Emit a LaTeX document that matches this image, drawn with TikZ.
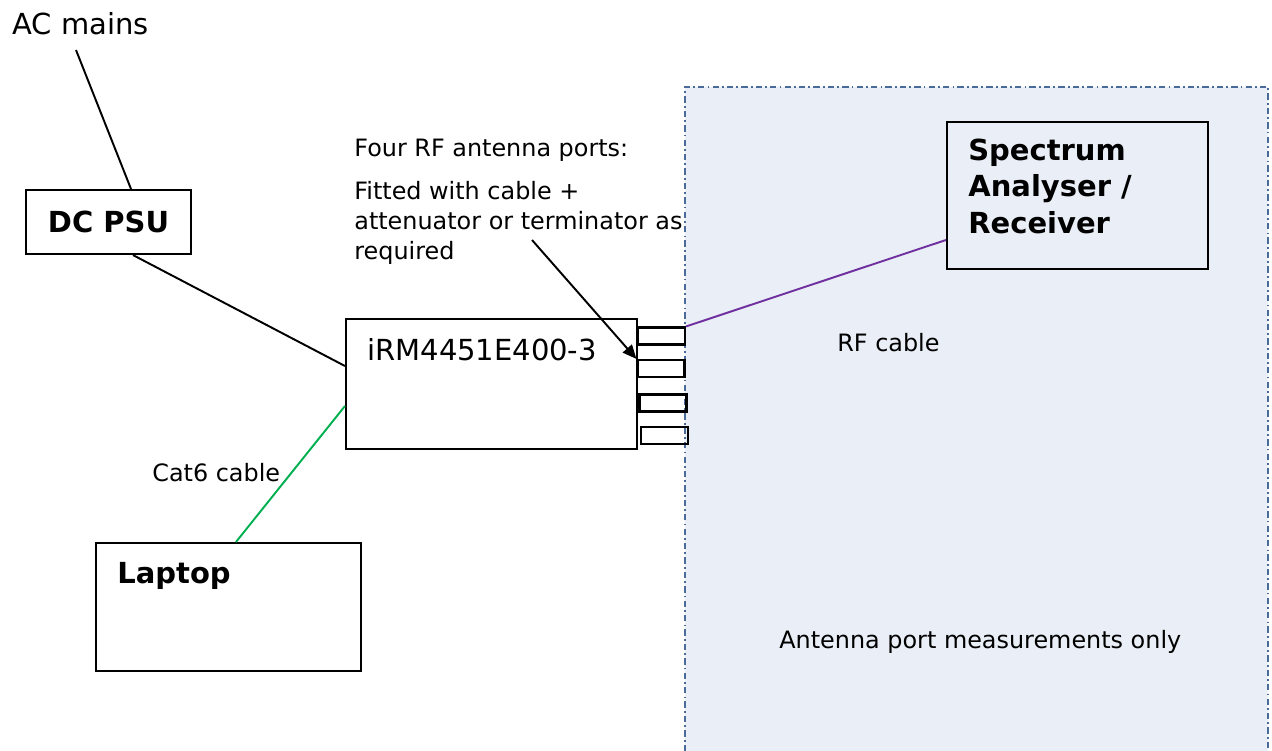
\documentclass[tikz,border=0pt]{standalone}
\usepackage{fontspec}
\setmainfont{DejaVu Sans}
\usetikzlibrary{arrows.meta}
\definecolor{zoneblue}{HTML}{EAEFF7}
\definecolor{zoneedge}{HTML}{4A6A9A}
\definecolor{rfpurple}{HTML}{7030A0}
\definecolor{catgreen}{HTML}{00B050}
\tikzset{
	box/.style = {draw, line width=1.2pt, inner sep=0pt},
	port/.style = {box, minimum width=0.94cm, minimum height=0.34cm},
	small/.style = {anchor=base west, inner sep=0pt, align=left, font=\fontsize{13.6}{16.8}\selectfont},
	large/.style = {anchor=base west, inner sep=0pt, align=left, font=\fontsize{16.5}{20.5}\selectfont},
	largebold/.style = {large, font=\fontsize{16.5}{20.5}\selectfont\bfseries},
	wire/.style = {line width=1.1pt}
}

\begin{document}
\begin{tikzpicture}[x=0.02cm, y=-0.02cm]
	\useasboundingbox (0,0) rectangle (1272,751);
	\fill[zoneblue] (685,87) rectangle (1268,751);
	\draw[zoneedge, line width=1.4pt, dash pattern=on 3.6pt off 1.8pt on 1pt off 1.8pt] (685,751) -- (685,87) -- (1268,87) -- (1268,751);

	\node[large] (ac) at (12,34) {AC mains};
	\node[box, minimum width=3.3cm, minimum height=1.28cm, font=\fontsize{16.5}{20.5}\selectfont\bfseries] (psu) at (108.5,222) {DC PSU};
	\node[box, minimum width=5.82cm, minimum height=2.6cm] (irm) at (491.5,384) {};
	\node[large] (irmtxt) at (367,360) {iRM4451E400-3};
	\node[port] (p1) at (661.5,336) {};
	\node[port] (p2) at (661,368.5) {};
	\node[port] (p3) at (663,403) {};
	\node[port] (p4) at (664.5,435.5) {};
	\node[box, minimum width=5.22cm, minimum height=2.94cm] (sa) at (1077.5,195.5) {};
	\node[largebold] (satxt) at (968,233) {Spectrum\\Analyser /\\Receiver};
	\node[box, minimum width=5.3cm, minimum height=2.56cm] (lap) at (228.5,607) {};
	\node[largebold] (laptxt) at (117,583) {Laptop};

	\node[small] (ports) at (354,156) {Four RF antenna ports:};
	\node[small] (fitted) at (354,259) {Fitted with cable +\\attenuator or terminator as\\required};
	\node[small] (rf) at (837,351) {RF cable};
	\node[small] (cat) at (152,481) {Cat6 cable};
	\node[small] (only) at (779,648) {Antenna port measurements only};

	\coordinate (acend) at (76,50);
	\coordinate (tail) at (532,240);
	\draw[wire] (acend) -- ([xshift=0.45cm]psu.north);
	\draw[wire] ([xshift=0.49cm]psu.south) -- ([yshift=0.36cm]irm.west);
	\draw[wire, catgreen] ([yshift=-0.44cm]irm.west) -- ([xshift=0.15cm]lap.north);
	\draw[wire, rfpurple] (p1.north east) -- ([yshift=-0.89cm]sa.west);
	\draw[wire, -{Triangle[length=0.28cm, width=0.24cm]}] (tail) -- (p2.north west);
\end{tikzpicture}
\end{document}
